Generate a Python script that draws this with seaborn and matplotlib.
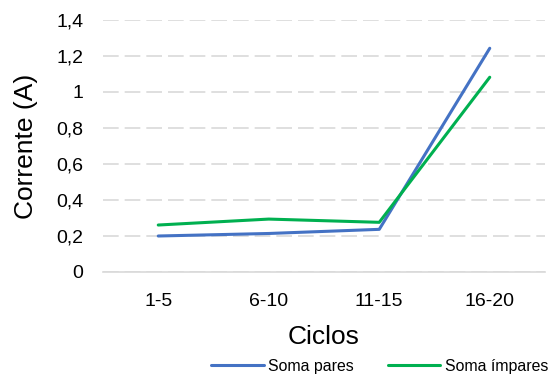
import matplotlib
matplotlib.use("Agg")
import matplotlib.pyplot as plt
import seaborn as sns
import pandas as pd
from matplotlib.ticker import FuncFormatter
from matplotlib.lines import Line2D

categorias = ["1-5", "6-10", "11-15", "16-20"]
soma_pares = [0.20, 0.214, 0.237, 1.243]
soma_impares = [0.261, 0.294, 0.276, 1.082]
series = ["Soma pares", "Soma ímpares"]
y_ticks = [0, 0.2, 0.4, 0.6, 0.8, 1.0, 1.2, 1.4]

df = pd.DataFrame({
    "Ciclos": categorias * 2,
    "Corrente": soma_pares + soma_impares,
    "Série": [series[0]] * 4 + [series[1]] * 4,
})

sns.set_theme(style="white")
plt.rcParams["font.family"] = ["Liberation Sans", "DejaVu Sans"]
plt.rcParams["text.color"] = "black"
plt.rcParams["axes.labelcolor"] = "black"

fig = plt.figure(figsize=(5.56, 3.77), dpi=100)
ax = fig.add_axes([103/556, 1-272/377, 442/556, 252/377])

palette = {"Soma pares": "#4472C4", "Soma ímpares": "#00B050"}
sns.lineplot(data=df, x="Ciclos", y="Corrente", hue="Série", palette=palette,
             linewidth=2.2, ax=ax, sort=False, legend=False)

ax.set_xlim(-0.5, 3.5)
ax.set_ylim(0, 1.4)
ax.set_yticks(y_ticks)
ax.yaxis.set_major_formatter(FuncFormatter(lambda v, p: ("%g" % round(v, 1)).replace(".", ",")))
ax.grid(axis="y", color="#D9D9D9", linestyle=(0, (9.4, 3.6)), linewidth=1.2)
ax.grid(axis="x", visible=False)
for s in ["top", "right", "left"]:
    ax.spines[s].set_visible(False)
ax.spines["bottom"].set_color("#D9D9D9")
ax.spines["bottom"].set_linewidth(1.2)
ax.set_axisbelow(True)
ax.tick_params(axis="both", length=0, labelsize=14, colors="#000000")
ax.tick_params(axis="x", pad=15)
ax.tick_params(axis="y", pad=14)
ax.set_xlabel("Ciclos", fontsize=19, labelpad=11, color="black")
ax.set_ylabel("Corrente (A)", fontsize=19, labelpad=13, color="black")

handles = [Line2D([], [], color=palette[s], linewidth=2.2) for s in series]
fig.legend(handles, series, loc="center", bbox_to_anchor=(380/556, 1-366/377),
           ncol=2, frameon=False, fontsize=11.4, handlelength=3.3, handletextpad=0.3,
           columnspacing=2.15, labelcolor="black")

fig.savefig("out.png", dpi=100)
